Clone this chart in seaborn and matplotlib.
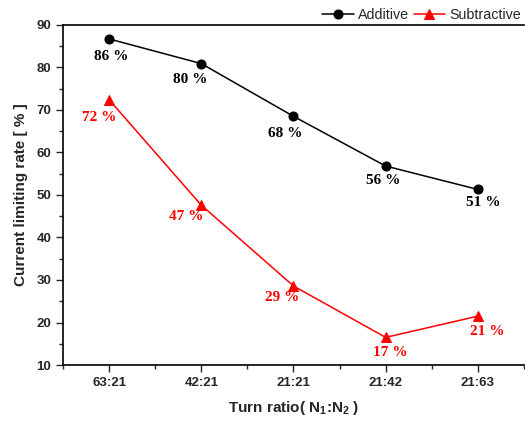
import pandas as pd
import matplotlib
matplotlib.use('Agg')
import matplotlib.pyplot as plt
import seaborn as sns
from matplotlib.ticker import MultipleLocator

# Values
ratios = ['63:21', '42:21', '21:21', '21:42', '21:63']
additive = [86.7, 80.9, 68.5, 56.8, 51.3]
subtractive = [72.4, 47.6, 28.6, 16.5, 21.5]
additive_labels = ['86 %', '80 %', '68 %', '56 %', '51 %']
subtractive_labels = ['72 %', '47 %', '29 %', '17 %', '21 %']

# label offsets in pixels (dx, dy) relative to each point
add_offsets = [(2, -18), (-11, -16), (-8, -17), (-2, -14), (5, -13)]
sub_offsets = [(-10, -18), (-15, -11), (-11, -12), (5, -15), (9, -15)]

df = pd.DataFrame({'ratio': ratios, 'Additive': additive, 'Subtractive': subtractive})

sns.set_style('ticks')
plt.rcParams['font.family'] = ['Liberation Sans', 'DejaVu Sans']

fig = plt.figure(figsize=(5.25, 4.22), dpi=100)
ax = fig.add_axes([0.12, 0.135, 0.878, 0.806])

sns.lineplot(data=df, x='ratio', y='Additive', color='black', marker='o',
             markersize=6.5, markeredgecolor='black', linewidth=1.1, ax=ax, label='Additive')
sns.lineplot(data=df, x='ratio', y='Subtractive', color='red', marker='^',
             markersize=7.5, markeredgecolor='red', linewidth=1.1, ax=ax, label='Subtractive')

for i, (v, t, off) in enumerate(zip(additive, additive_labels, add_offsets)):
    ax.annotate(t, (i, v), xytext=off, textcoords='offset pixels', ha='center', va='center',
                fontsize=11, fontweight='bold', family='Liberation Serif', color='black')
for i, (v, t, off) in enumerate(zip(subtractive, subtractive_labels, sub_offsets)):
    ax.annotate(t, (i, v), xytext=off, textcoords='offset pixels', ha='center', va='center',
                fontsize=11, fontweight='bold', family='Liberation Serif', color='red')

ax.set_xlim(-0.5, 4.5)
ax.set_ylim(10, 90)
ax.yaxis.set_major_locator(MultipleLocator(10))
ax.yaxis.set_minor_locator(MultipleLocator(5))
ax.xaxis.set_minor_locator(MultipleLocator(1, offset=0.5))
ax.tick_params(which='major', direction='out', length=5, width=1, labelsize=9.5)
ax.tick_params(which='minor', direction='out', length=3, width=1)
for lab in ax.get_xticklabels() + ax.get_yticklabels():
    lab.set_fontweight('bold')

ax.set_xlabel('Turn ratio( N$_\\mathregular{1}$:N$_\\mathregular{2}$ )', fontsize=11, fontweight='bold', labelpad=7)
ax.set_ylabel('Current limiting rate [ % ]', fontsize=11, fontweight='bold', labelpad=6)

for s in ['left', 'bottom', 'top']:
    ax.spines[s].set_color('black')
    ax.spines[s].set_linewidth(1.2)
ax.spines['right'].set_visible(False)

ax.legend(loc='lower right', bbox_to_anchor=(0.997, 1.005), ncol=2, frameon=False,
          fontsize=10.3, handlelength=2.2, handletextpad=0.3, columnspacing=0.3,
          borderaxespad=0, borderpad=0.1)

fig.savefig('out.png', dpi=100)
